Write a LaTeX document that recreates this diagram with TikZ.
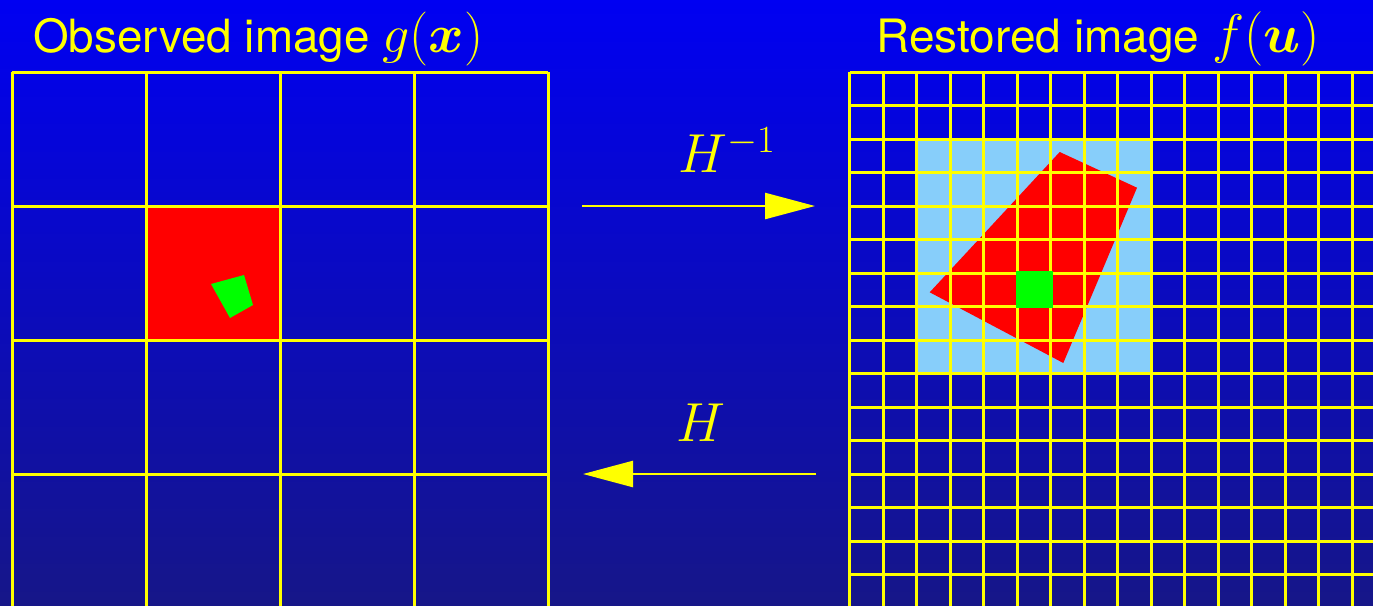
\RequirePackage{fix-cm}
\documentclass[tikz,border=0pt]{standalone}
\usepackage{amsmath}
\usepackage{fontspec}
\setmainfont{TeX Gyre Heros}
\usetikzlibrary{arrows.meta}
\definecolor{bgtop}{RGB}{0,0,242}
\definecolor{bgbot}{RGB}{22,22,136}
\definecolor{ylw}{RGB}{255,255,0}
\definecolor{lblue}{RGB}{135,206,250}
\definecolor{pred}{RGB}{255,0,0}
\definecolor{pgreen}{RGB}{0,255,0}
\tikzset{
  gridline/.style={draw=ylw, line width=3pt},
  title/.style={text=ylw, inner sep=0pt, anchor=base west},
  maplabel/.style={text=ylw, inner sep=0pt, anchor=base west, font=\fontsize{55}{60}\selectfont},
  maparrow/.style={draw=ylw, line width=2.5pt, -{Triangle[length=50pt,width=26pt]}, fill=ylw},
}
\begin{document}
\begin{tikzpicture}[x=1pt,y=-1pt]
\useasboundingbox (0,0) rectangle (1373,605);
\shade[top color=bgtop, bottom color=bgbot] (0,0) rectangle (1373,605);
\clip (0,0) rectangle (1373,605);
% titles
\node[title] (tl) at (33,52) {\fontsize{45.8}{54}\selectfont Observed image \fontsize{54}{60}\selectfont$g(\boldsymbol{x})$};
\node[title] (tr) at (876,52) {\fontsize{46}{54}\selectfont Restored image \fontsize{54.5}{60}\selectfont$f(\boldsymbol{u})$};
% left image
\fill[pred] (146,206) rectangle (280,340);
\fill[pgreen] (211,284) -- (244,275) -- (253,305) -- (230,318) -- cycle;
\foreach \i in {0,...,4} {
  \draw[gridline] ({12+134*\i},72) -- ({12+134*\i},610);
  \draw[gridline] (12,{72+134*\i}) -- (548,{72+134*\i});
}
% right image
\fill[lblue] (917,139) rectangle (1151.5,373.5);
\fill[pred] (1059.7,152) -- (1137,187.7) -- (1063.3,363) -- (929.7,292.3) -- cycle;
\foreach \i in {0,...,16} {
  \draw[gridline] ({849.5+33.5*\i},72) -- ({849.5+33.5*\i},610);
  \draw[gridline] (849.5,{72+33.5*\i}) -- (1380,{72+33.5*\i});
}
\fill[pgreen] (1016,271.3) rectangle (1052.7,307.7);
% arrows
\coordinate (fs) at (582,206);
\coordinate (fe) at (815,206);
\coordinate (bs) at (816,474);
\coordinate (be) at (583,474);
\draw[maparrow] (fs) -- (fe);
\draw[maparrow] (bs) -- (be);
\node[maplabel] (hinv) at (678,172) {$H^{-1}$};
\node[maplabel] (h) at (676,441) {$H$};
\end{tikzpicture}
\end{document}
